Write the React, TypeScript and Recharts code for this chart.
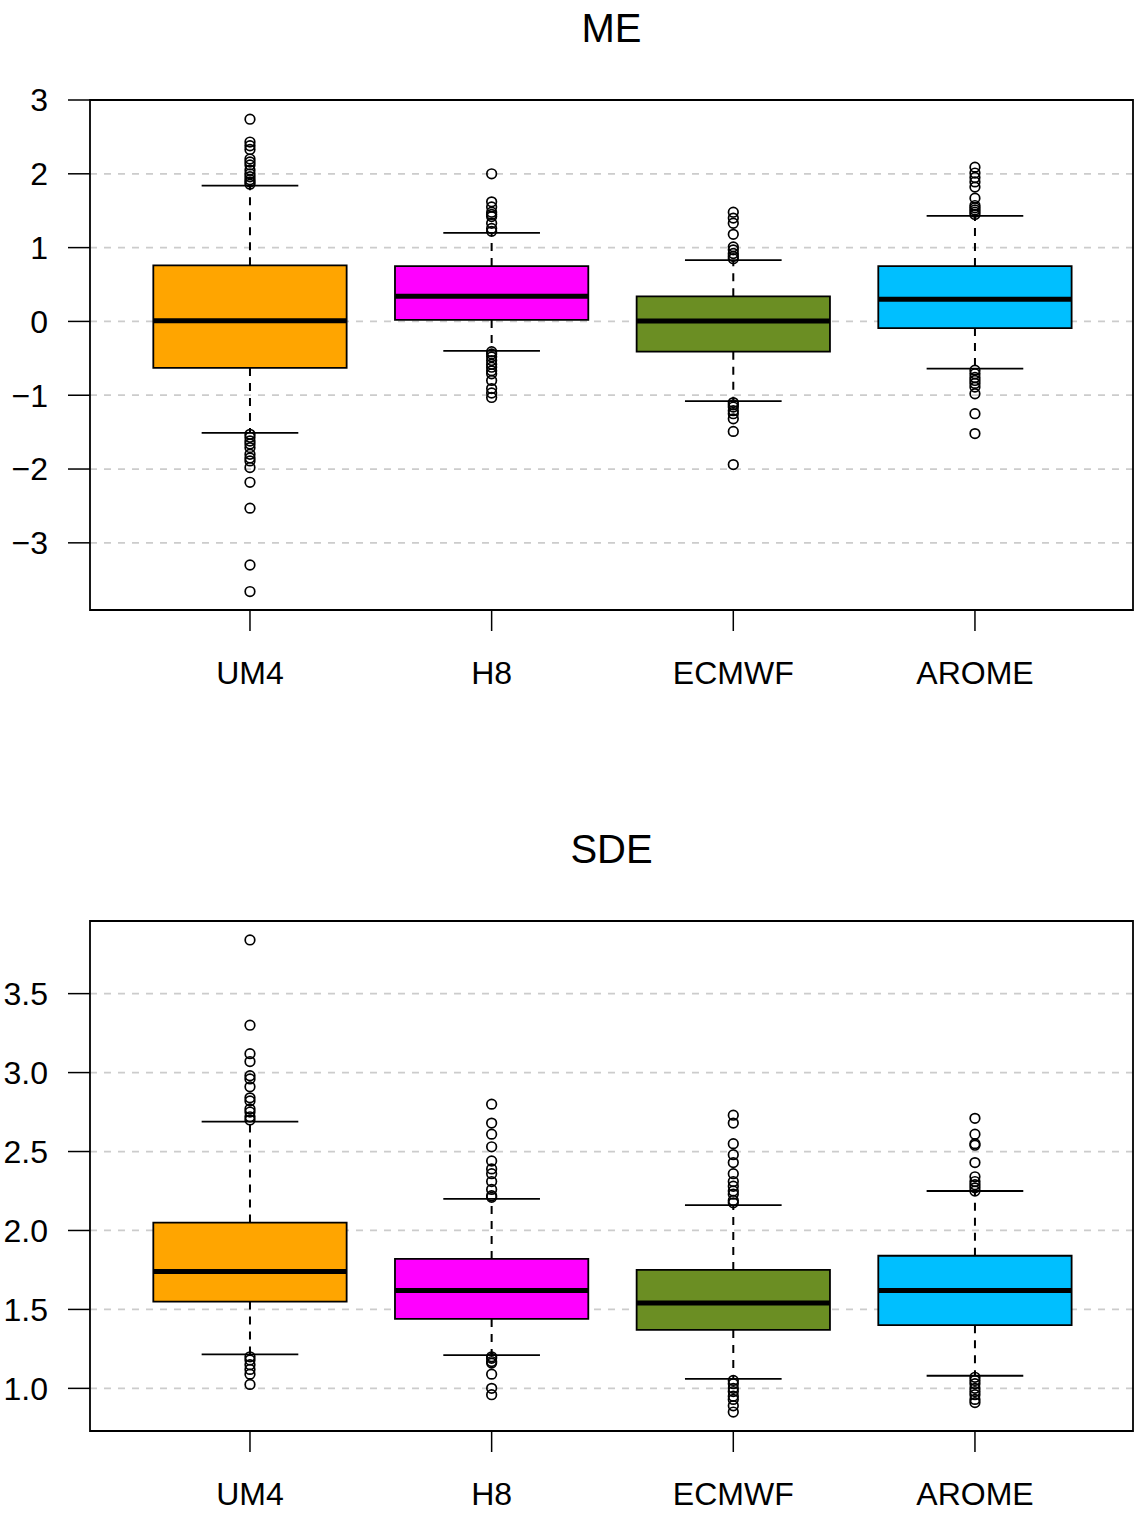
import React from 'react';
import {
  ScatterChart,
  Scatter,
  XAxis,
  YAxis,
  CartesianGrid,
  ReferenceArea,
  ReferenceLine,
} from 'recharts';

const models = ['UM4', 'H8', 'ECMWF', 'AROME'];
const colors = ['#FFA500', '#FF00FF', '#6B8E23', '#00BFFF'];

// ME panel
const meLowerWhisker = [-1.51, -0.4, -1.08, -0.64];
const meQ1 = [-0.63, 0.02, -0.41, -0.09];
const meMedian = [0.01, 0.34, 0.005, 0.3];
const meQ3 = [0.76, 0.75, 0.34, 0.75];
const meUpperWhisker = [1.84, 1.2, 0.83, 1.43];
const meOutUM4 = [2.74, 2.43, 2.38, 2.33, 2.2, 2.16, 2.12, 2.05, 2.0, 1.96, 1.92, 1.89, 1.86, -1.53, -1.57, -1.62, -1.66, -1.71, -1.8, -1.85, -1.89, -1.98, -2.18, -2.53, -3.3, -3.66];
const meOutH8 = [2.0, 1.62, 1.55, 1.48, 1.45, 1.42, 1.33, 1.26, 1.22, -0.41, -0.44, -0.48, -0.53, -0.58, -0.62, -0.67, -0.71, -0.8, -0.91, -0.97, -1.03];
const meOutECMWF = [1.48, 1.4, 1.33, 1.18, 1.01, 0.97, 0.92, 0.88, 0.85, -1.1, -1.13, -1.16, -1.21, -1.25, -1.32, -1.49, -1.94];
const meOutAROME = [2.09, 2.01, 1.95, 1.89, 1.82, 1.67, 1.57, 1.54, 1.51, 1.48, 1.45, -0.66, -0.71, -0.76, -0.8, -0.84, -0.89, -0.98, -1.25, -1.52];
const meTicks = [-3, -2, -1, 0, 1, 2, 3];
const meDomain = [-3.91, 3.0];

// SDE panel
const sdeLowerWhisker = [1.215, 1.21, 1.06, 1.08];
const sdeQ1 = [1.55, 1.44, 1.37, 1.4];
const sdeMedian = [1.74, 1.62, 1.54, 1.62];
const sdeQ3 = [2.05, 1.82, 1.75, 1.84];
const sdeUpperWhisker = [2.69, 2.2, 2.16, 2.25];
const sdeOutUM4 = [3.84, 3.3, 3.12, 3.07, 2.98, 2.96, 2.91, 2.84, 2.82, 2.77, 2.75, 2.72, 2.7, 1.2, 1.18, 1.15, 1.12, 1.09, 1.025];
const sdeOutH8 = [2.8, 2.68, 2.61, 2.53, 2.44, 2.39, 2.36, 2.31, 2.26, 2.22, 2.21, 1.2, 1.19, 1.17, 1.16, 1.09, 1.0, 0.96];
const sdeOutECMWF = [2.73, 2.68, 2.55, 2.48, 2.43, 2.36, 2.31, 2.28, 2.25, 2.23, 2.19, 2.175, 1.05, 1.03, 1.0, 0.98, 0.95, 0.93, 0.89, 0.85];
const sdeOutAROME = [2.71, 2.61, 2.55, 2.54, 2.43, 2.34, 2.31, 2.29, 2.27, 2.25, 1.07, 1.05, 1.03, 1.0, 0.98, 0.96, 0.93, 0.91];
const sdeTicks = [1.0, 1.5, 2.0, 2.5, 3.0, 3.5];
const sdeDomain = [0.73, 3.96];

const xPositions = [1, 2, 3, 4];
const xDomain = [0.338, 4.654];

const FONT = '"Liberation Sans", Arial, Helvetica, sans-serif';

type PanelProps = {
  title: string;
  top: number;
  lower: number[];
  q1: number[];
  median: number[];
  q3: number[];
  upper: number[];
  outliers: number[][];
  ticks: number[];
  domain: number[];
  fmt: (v: number) => string;
};

const OutlierDot = (props: any) => {
  const { cx, cy } = props;
  if (cx == null || cy == null) return null;
  return <circle cx={cx} cy={cy} r={4.8} fill="none" stroke="#000" strokeWidth={1.7} />;
};

function Panel(p: PanelProps) {
  const points = p.outliers.flatMap((arr, i) => arr.map((v) => ({ x: xPositions[i], y: v })));
  const boxHalf = 0.4;
  const capHalf = 0.2;
  return (
    <div style={{ position: 'absolute', left: 0, top: p.top, width: 1134, height: 692 }}>
      <div
        style={{
          position: 'absolute',
          left: 90,
          top: 8,
          width: 1043,
          textAlign: 'center',
          fontFamily: FONT,
          fontSize: 40,
          lineHeight: '40px',
          color: '#000',
        }}
      >
        {p.title}
      </div>
      <ScatterChart width={1134} height={692} margin={{ top: 100, right: 1, bottom: 0, left: 0 }}>
        <CartesianGrid horizontal vertical={false} stroke="#cccccc" strokeWidth={1.8} strokeDasharray="7 7" />
        <XAxis
          type="number"
          dataKey="x"
          domain={xDomain}
          ticks={xPositions}
          allowDataOverflow
          tickFormatter={(v: number) => models[Math.round(v) - 1] ?? ''}
          axisLine={false}
          tickSize={21}
          tickMargin={30}
          height={82}
          tickLine={{ stroke: '#000', strokeWidth: 1.5 }}
          tick={{ fontSize: 32, fontFamily: FONT, fill: '#000' }}
        />
        <YAxis
          type="number"
          dataKey="y"
          domain={p.domain}
          ticks={p.ticks}
          allowDataOverflow
          tickFormatter={p.fmt}
          axisLine={false}
          tickSize={22}
          tickMargin={20}
          width={90}
          tickLine={{ stroke: '#000', strokeWidth: 1.5 }}
          tick={{ fontSize: 32, fontFamily: FONT, fill: '#000' }}
        />
        {xPositions.map((x, i) => (
          <ReferenceLine
            key={'wu' + i}
            segment={[{ x, y: p.q3[i] }, { x, y: p.upper[i] }]}
            stroke="#000"
            strokeWidth={2}
            strokeDasharray="8 7"
          />
        ))}
        {xPositions.map((x, i) => (
          <ReferenceLine
            key={'wl' + i}
            segment={[{ x, y: p.q1[i] }, { x, y: p.lower[i] }]}
            stroke="#000"
            strokeWidth={2}
            strokeDasharray="8 7"
          />
        ))}
        {xPositions.map((x, i) => (
          <ReferenceArea
            key={'box' + i}
            x1={x - boxHalf}
            x2={x + boxHalf}
            y1={p.q1[i]}
            y2={p.q3[i]}
            fill={colors[i]}
            fillOpacity={1}
            stroke="#000"
            strokeWidth={1.8}
          />
        ))}
        {xPositions.map((x, i) => (
          <ReferenceLine
            key={'med' + i}
            segment={[{ x: x - boxHalf, y: p.median[i] }, { x: x + boxHalf, y: p.median[i] }]}
            stroke="#000"
            strokeWidth={5}
          />
        ))}
        {xPositions.map((x, i) => (
          <ReferenceLine
            key={'cu' + i}
            segment={[{ x: x - capHalf, y: p.upper[i] }, { x: x + capHalf, y: p.upper[i] }]}
            stroke="#000"
            strokeWidth={1.8}
          />
        ))}
        {xPositions.map((x, i) => (
          <ReferenceLine
            key={'cl' + i}
            segment={[{ x: x - capHalf, y: p.lower[i] }, { x: x + capHalf, y: p.lower[i] }]}
            stroke="#000"
            strokeWidth={1.8}
          />
        ))}
        <Scatter data={points} dataKey="y" shape={OutlierDot} isAnimationActive={false} />
        <ReferenceArea
          x1={xDomain[0]}
          x2={xDomain[1]}
          y1={p.domain[0]}
          y2={p.domain[1]}
          fill="none"
          fillOpacity={0}
          stroke="#000"
          strokeWidth={1.8}
        />
      </ScatterChart>
    </div>
  );
}

const fmtME = (v: number) => (v < 0 ? '\u2212' + Math.abs(v) : String(v));
const fmtSDE = (v: number) => v.toFixed(1);

export default function App() {
  return (
    <div style={{ position: 'absolute', left: 0, top: 0, width: 1134, height: 1513, background: '#fff' }}>
      <Panel
        title="ME"
        top={0}
        lower={meLowerWhisker}
        q1={meQ1}
        median={meMedian}
        q3={meQ3}
        upper={meUpperWhisker}
        outliers={[meOutUM4, meOutH8, meOutECMWF, meOutAROME]}
        ticks={meTicks}
        domain={meDomain}
        fmt={fmtME}
      />
      <Panel
        title="SDE"
        top={821}
        lower={sdeLowerWhisker}
        q1={sdeQ1}
        median={sdeMedian}
        q3={sdeQ3}
        upper={sdeUpperWhisker}
        outliers={[sdeOutUM4, sdeOutH8, sdeOutECMWF, sdeOutAROME]}
        ticks={sdeTicks}
        domain={sdeDomain}
        fmt={fmtSDE}
      />
    </div>
  );
}
